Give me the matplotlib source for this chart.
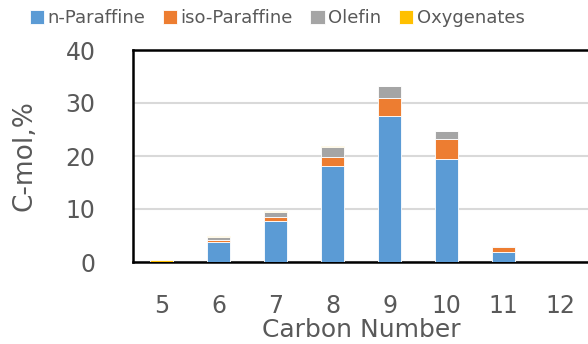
import numpy as np
import matplotlib.pyplot as plt

carbon = ["5", "6", "7", "8", "9", "10", "11", "12"]
n_paraffine = [0.0, 3.8, 7.75, 18.1, 27.6, 19.4, 1.9, 0.0]
iso_paraffine = [0.0, 0.4, 0.75, 1.8, 3.4, 3.85, 1.0, 0.0]
olefin = [0.0, 0.55, 0.95, 1.8, 2.2, 1.5, 0.1, 0.0]
oxygenates = [0.3, 0.1, 0.1, 0.1, 0.0, 0.0, 0.0, 0.0]

series = [
    ("n-Paraffine", n_paraffine, "#5B9BD5"),
    ("iso-Paraffine", iso_paraffine, "#ED7D31"),
    ("Olefin", olefin, "#A5A5A5"),
    ("Oxygenates", oxygenates, "#FFC000"),
]

plt.rcParams['font.family'] = ['DejaVu Sans']
txt = "#595959"

fig = plt.figure(figsize=(5.88, 3.44), dpi=100)
ax = fig.add_axes([133 / 588, 1 - 262 / 344, 456 / 588, 212 / 344])

x = np.arange(len(carbon))
bottom = np.zeros(len(carbon))
for name, vals, col in series:
    ax.bar(x, vals, 0.4, bottom=bottom, color=col, label=name,
           edgecolor="white", linewidth=0.6, zorder=3)
    bottom += np.array(vals)

ax.set_xlim(-0.5, len(carbon) - 0.5)
ax.set_ylim(0, 40)
ax.set_yticks([0, 10, 20, 30, 40])
ax.set_xticks(x)
ax.set_xticklabels(carbon)
ax.yaxis.grid(True, color="#D9D9D9", linewidth=1.5, zorder=0)
ax.tick_params(length=0, labelsize=17, labelcolor=txt)
ax.tick_params(axis="y", pad=27)
ax.tick_params(axis="x", pad=23)
for s in ["left", "bottom", "top"]:
    ax.spines[s].set_linewidth(1.8)
    ax.spines[s].set_color("black")
ax.spines["right"].set_visible(False)

ax.set_ylabel("C-mol,%", fontsize=19, color=txt, labelpad=20)
ax.set_xlabel("Carbon Number", fontsize=18, color=txt, labelpad=0)

fig.legend(loc="center", bbox_to_anchor=(277 / 588, 1 - 18 / 344), ncol=4,
           frameon=False, fontsize=13, labelcolor=txt,
           handlelength=0.8, handleheight=0.8, handletextpad=0.2,
           columnspacing=0.95, borderaxespad=0)

fig.savefig("out.png", dpi=100)
